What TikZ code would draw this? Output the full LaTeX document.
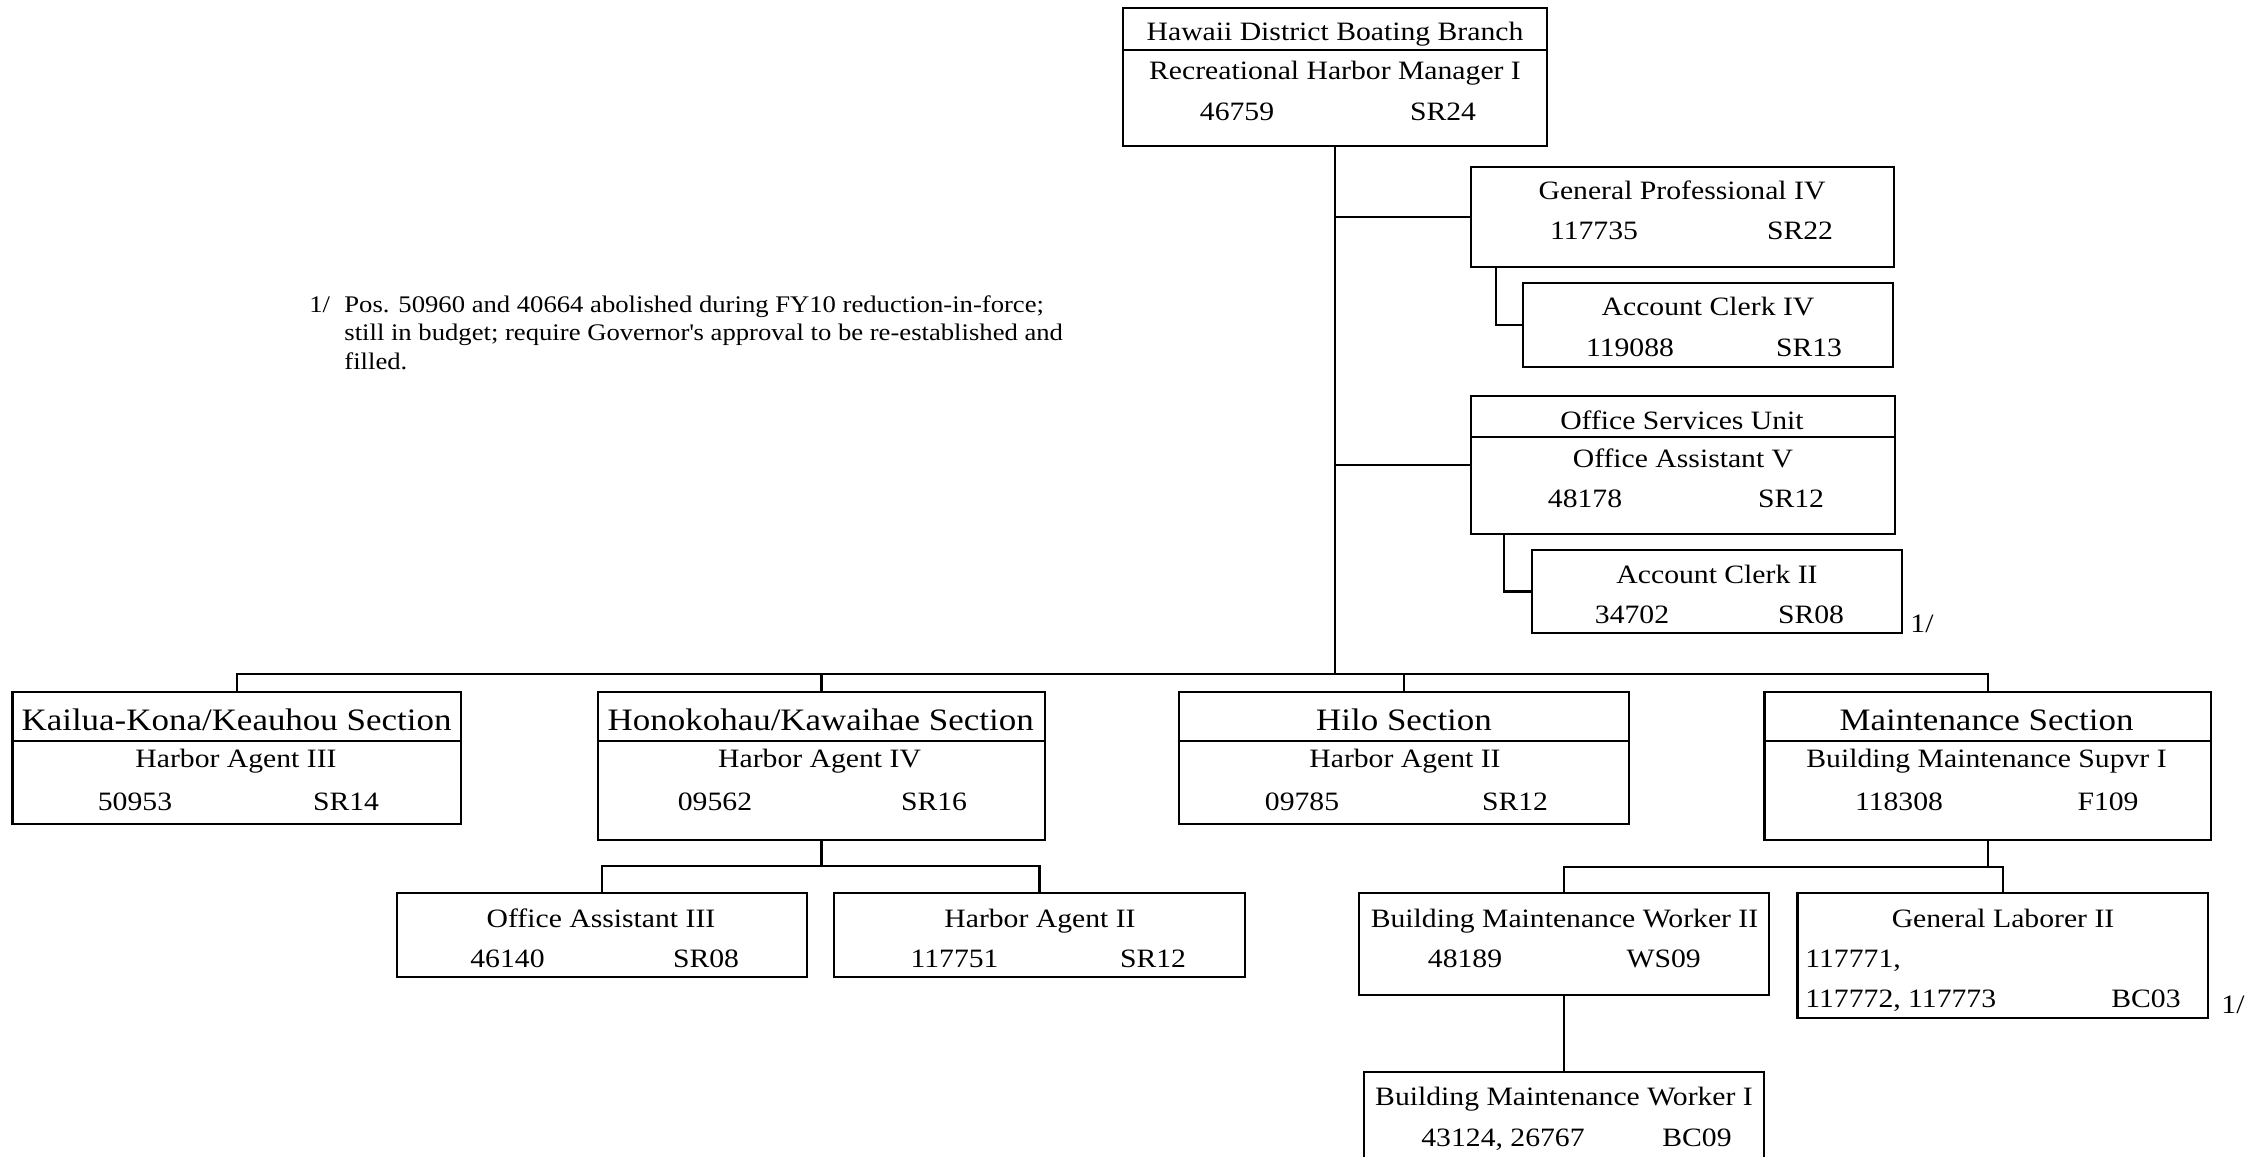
\documentclass[tikz,border=0pt]{standalone}
\usepackage{fontspec}
\setmainfont{Liberation Serif}[FakeStretch=1.12]
\usetikzlibrary{fit}
\begin{document}
\begin{tikzpicture}[x=0.5pt,y=-0.5pt,
  box/.style={draw, line width=1.4pt, inner sep=0pt, rectangle},
  link/.style={line width=1.1pt},
  divider/.style={line width=0.7pt},
  txt/.style={inner sep=0pt, anchor=base, font=\fontsize{13.25}{16}\selectfont},
  sec/.style={inner sep=0pt, anchor=base, font=\fontsize{15.6}{18}\selectfont},
  lft/.style={txt, anchor=base west},
  note/.style={inner sep=0pt, anchor=base west, font=\fontsize{11.9}{14}\selectfont}]
\useasboundingbox (0,0) rectangle (2250,1157);
% boxes
\node[box, fit={(1123,8) (1547,146)}] (top) {};
\node[box, fit={(1471,167) (1894,267)}] (gp) {};
\node[box, fit={(1523,283) (1893,367)}] (ac4) {};
\node[box, fit={(1471,396) (1895,534)}] (osu) {};
\node[box, fit={(1532,550) (1902,633)}] (ac2) {};
\node[box, fit={(12.5,692) (461,824)}] (kai) {};
\node[box, fit={(598,692) (1045,840)}] (hon) {};
\node[box, fit={(1179,692) (1629,824)}] (hilo) {};
\node[box, fit={(1764.5,692) (2211,840)}] (mnt) {};
\node[box, fit={(397,893) (807,977)}] (oa3) {};
\node[box, fit={(834,893) (1245,977)}] (ha2) {};
\node[box, fit={(1359,893) (1769,995)}] (bmw2) {};
\node[box, fit={(1797.6,893) (2208,1018)}] (gl2) {};
\node[box, fit={(1364,1072) (1764,1175)}] (bmw1) {};
% dividers
\coordinate (d0) at (0,50);
\coordinate (d1) at (0,437);
\coordinate (d2) at (0,741);
\draw[divider] (top.west |- d0) -- (top.east |- d0);
\draw[divider] (osu.west |- d1) -- (osu.east |- d1);
\draw[divider] (kai.west |- d2) -- (kai.east |- d2);
\draw[divider] (hon.west |- d2) -- (hon.east |- d2);
\draw[divider] (hilo.west |- d2) -- (hilo.east |- d2);
\draw[divider] (mnt.west |- d2) -- (mnt.east |- d2);
% connectors
\coordinate (bus) at (0,674);
\coordinate (e1) at (1496,0);
\coordinate (e2) at (1504,0);
\coordinate (sb1) at (0,866);
\coordinate (sb2) at (0,867);
\draw[link] (top.south) -- (top.south |- bus);
\draw[link] (top.south |- gp.west) -- (gp.west);
\draw[link] (top.south |- osu.west) -- (osu.west);
\draw[link] (gp.south -| e1) |- (ac4.west);
\draw[link] (osu.south -| e2) |- (ac2.west);
\draw[link] (kai.north) -- (kai.north |- bus) -- (mnt.north |- bus) -- (mnt.north);
\draw[link] (hon.north) -- (hon.north |- bus);
\draw[link] (hilo.north) -- (hilo.north |- bus);
\draw[link] (hon.south) -- (hon.south |- sb1);
\draw[link] (oa3.north) -- (oa3.north |- sb1) -- (ha2.north |- sb1) -- (ha2.north);
\draw[link] (mnt.south) -- (mnt.south |- sb2);
\draw[link] (bmw2.north) -- (bmw2.north |- sb2) -- (gl2.north |- sb2) -- (gl2.north);
\draw[link] (bmw2.south) -- (bmw1.north);
% texts: top
\node[txt] (t0a) at (1335,40.7) {Hawaii District Boating Branch};
\node[txt] (t0b) at (1335,79) {Recreational Harbor Manager I};
\node[txt] (t0c) at (1237,120) {46759};
\node[txt] (t0d) at (1443,120) {SR24};
% GP IV
\node[txt] (t1a) at (1682,199) {General Professional IV};
\node[txt] (t1b) at (1594,239) {117735};
\node[txt] (t1c) at (1800,239) {SR22};
% AC IV
\node[txt] (t2a) at (1708,315) {Account Clerk IV};
\node[txt] (t2b) at (1630,356) {119088};
\node[txt] (t2c) at (1809,356) {SR13};
% OSU
\node[txt] (t3a) at (1682,429) {Office Services Unit};
\node[txt] (t3b) at (1683,467) {Office Assistant V};
\node[txt] (t3c) at (1585,507) {48178};
\node[txt] (t3d) at (1791,507) {SR12};
% AC II
\node[txt] (t4a) at (1717,583) {Account Clerk II};
\node[txt] (t4b) at (1632,623) {34702};
\node[txt] (t4c) at (1811,623) {SR08};
\node[lft] (t4n) at (1910,632) {1/};
% Kailua
\node[sec] (t5a) at (236.5,730) {Kailua-Kona/Keauhou Section};
\node[txt] (t5b) at (236,767) {Harbor Agent III};
\node[txt] (t5c) at (135,810) {50953};
\node[txt] (t5d) at (346,810) {SR14};
% Honokohau
\node[sec] (t6a) at (820.7,730) {Honokohau/Kawaihae Section};
\node[txt] (t6b) at (819.6,767) {Harbor Agent IV};
\node[txt] (t6c) at (715,810) {09562};
\node[txt] (t6d) at (934,810) {SR16};
% Hilo
\node[sec] (t7a) at (1404,730) {Hilo Section};
\node[txt] (t7b) at (1405,767) {Harbor Agent II};
\node[txt] (t7c) at (1302,810) {09785};
\node[txt] (t7d) at (1515,810) {SR12};
% Maintenance
\node[sec] (t8a) at (1986.5,730) {Maintenance Section};
\node[txt] (t8b) at (1986.5,767) {Building Maintenance Supvr I};
\node[txt] (t8c) at (1899,810) {118308};
\node[txt] (t8d) at (2108,810) {F109};
% OA III
\node[txt] (t9a) at (601,927) {Office Assistant III};
\node[txt] (t9b) at (507.5,967) {46140};
\node[txt] (t9c) at (706,967) {SR08};
% HA II
\node[txt] (t10a) at (1040,927) {Harbor Agent II};
\node[txt] (t10b) at (954.6,967) {117751};
\node[txt] (t10c) at (1153,967) {SR12};
% BMW II
\node[txt] (t11a) at (1564.5,927) {Building Maintenance Worker II};
\node[txt] (t11b) at (1465,967) {48189};
\node[txt] (t11c) at (1663.6,967) {WS09};
% GL II
\node[txt] (t12a) at (2003,927) {General Laborer II};
\node[lft] (t12b) at (1805,967) {117771,};
\node[lft] (t12c) at (1805,1007) {117772, 117773};
\node[txt] (t12d) at (2146,1007) {BC03};
\node[lft] (t12n) at (2221,1013) {1/};
% BMW I
\node[txt] (t13a) at (1564,1105) {Building Maintenance Worker I};
\node[txt] (t13b) at (1503,1146) {43124, 26767};
\node[txt] (t13c) at (1697,1146) {BC09};
% footnote
\node[note] (n0) at (309,312) {1/};
\node[note] (n1) at (344,312) {Pos. 50960 and 40664 abolished during FY10 reduction-in-force;};
\node[note] (n2) at (344,340.5) {still in budget; require Governor\textquotesingle s approval to be re-established and};
\node[note] (n3) at (344,369) {filled.};
\end{tikzpicture}
\end{document}
